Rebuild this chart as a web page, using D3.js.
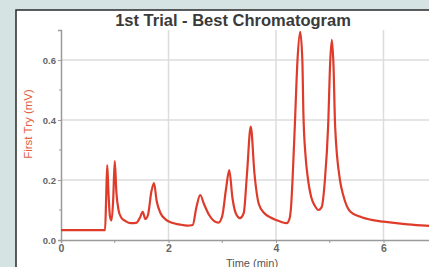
<!DOCTYPE html>
<html>
<head>
<meta charset="utf-8">
<script src="https://cdn.jsdelivr.net/npm/d3@7"></script>
<style>
  body { margin: 0; background: #d5e3e3; overflow: hidden; }
  svg { display: block; font-family: "Liberation Sans", Arial, sans-serif; }
</style>
</head>
<body>
<script>
// chromatogram: time (min), signal (mV)
const times = [0, 0.82, 0.84, 0.86, 0.88, 0.91, 0.94, 0.97, 1.0, 1.03, 1.07, 1.12, 1.2, 1.3, 1.4,
  1.47, 1.52, 1.57, 1.62, 1.68, 1.73, 1.78, 1.85, 1.95, 2.05, 2.2, 2.35, 2.45, 2.52, 2.59, 2.66,
  2.75, 2.85, 2.93, 3.0, 3.07, 3.13, 3.19, 3.25, 3.33, 3.4, 3.46, 3.53, 3.6, 3.68, 3.78, 3.9, 4.0,
  4.1, 4.2, 4.25, 4.28, 4.31, 4.35, 4.4, 4.45, 4.49, 4.51, 4.55, 4.59, 4.66, 4.72, 4.79, 4.85,
  4.91, 4.97, 5.01, 5.04, 5.07, 5.1, 5.19, 5.25, 5.38, 5.56, 5.8, 6.0, 6.4, 6.85, 7.0];
const signal = [0.033, 0.033, 0.14, 0.25, 0.17, 0.08, 0.065, 0.13, 0.263, 0.16, 0.1, 0.075, 0.063, 0.056, 0.057,
  0.075, 0.094, 0.07, 0.085, 0.16, 0.19, 0.13, 0.09, 0.068, 0.058, 0.052, 0.048, 0.05, 0.11, 0.15, 0.12,
  0.085, 0.063, 0.058, 0.08, 0.17, 0.233, 0.14, 0.09, 0.073, 0.09, 0.22, 0.378, 0.22, 0.12, 0.09, 0.075, 0.067,
  0.06, 0.056, 0.07, 0.11, 0.21, 0.38, 0.6, 0.694, 0.6, 0.42, 0.28, 0.21, 0.14, 0.115, 0.1, 0.11,
  0.2, 0.38, 0.6, 0.667, 0.58, 0.38, 0.2, 0.15, 0.095, 0.078, 0.066, 0.061, 0.053, 0.047, 0.045];
const xTicks = [0, 2, 4, 6];
const xMinor = [1, 3, 5];
const yTicks = [0, 0.2, 0.4, 0.6];
const yMinor = [0.1, 0.3, 0.5];

const W = 429, H = 267;
const svg = d3.select("body").append("svg").attr("width", W).attr("height", H);

// white panel with dark top/left edge
svg.append("rect").attr("x", 16).attr("y", 10).attr("width", W).attr("height", H).attr("fill", "#fff");
svg.append("path").attr("d", `M16,${H} V10 H${W}`).attr("fill", "none").attr("stroke", "#2a2a2a").attr("stroke-width", 1.5);

const x = d3.scaleLinear().domain([0, 7]).range([61, 437.25]);
const y = d3.scaleLinear().domain([0, 0.7]).range([240, 30]);

// grid
const grid = svg.append("g").attr("stroke", "#dcdcdc").attr("stroke-width", 1.5);
grid.selectAll("line.gx").data(xTicks.slice(1)).join("line")
  .attr("x1", d => x(d)).attr("x2", d => x(d)).attr("y1", y(0.7)).attr("y2", y(0));
grid.selectAll("line.gy").data(yTicks.slice(1)).join("line")
  .attr("x1", x(0)).attr("x2", W).attr("y1", d => y(d)).attr("y2", d => y(d));

// axes
const xAxis = svg.append("g").attr("transform", `translate(0,${y(0)})`)
  .call(d3.axisBottom(x).tickValues(xTicks).tickFormat(d3.format("d")).tickSize(3).tickPadding(2));
const yAxis = svg.append("g").attr("transform", `translate(${x(0)},0)`)
  .call(d3.axisLeft(y).tickValues(yTicks).tickFormat(d3.format(".1f")).tickSize(3).tickPadding(2));
[xAxis, yAxis].forEach(a => {
  a.select(".domain").attr("stroke", "#9a9a9a").attr("stroke-width", 1.5);
  a.selectAll(".tick line").attr("stroke", "#9a9a9a");
  a.selectAll("text").attr("fill", "#666").attr("font-size", 9.5).attr("font-weight", "bold")
    .attr("font-family", "Liberation Sans, Arial, sans-serif");
});
xAxis.selectAll("text").attr("font-size", 10.5);

svg.selectAll("line.mx").data(xMinor).join("line").attr("class", "mx")
  .attr("x1", d => x(d)).attr("x2", d => x(d)).attr("y1", y(0)).attr("y2", y(0) + 3)
  .attr("stroke", "#9a9a9a");
svg.selectAll("line.my").data(yMinor).join("line").attr("class", "my")
  .attr("x1", x(0) - 2).attr("x2", x(0)).attr("y1", d => y(d)).attr("y2", d => y(d))
  .attr("stroke", "#9a9a9a");

// trace
const pts = times.map((t, i) => [t, signal[i]]);
const line = d3.line().x(d => x(d[0])).y(d => y(d[1])).curve(d3.curveMonotoneX);
svg.append("path").datum(pts).attr("d", line)
  .attr("fill", "none").attr("stroke", "#de3b2b").attr("stroke-width", 2.2)
  .attr("stroke-linejoin", "round");

// labels
svg.append("text").attr("x", 233).attr("y", 26).attr("text-anchor", "middle")
  .attr("font-size", 16.5).attr("font-weight", "bold").attr("fill", "#3a3a3a")
  .text("1st Trial - Best Chromatogram");
svg.append("text").attr("transform", "translate(32,124) rotate(-90)").attr("text-anchor", "middle")
  .attr("font-size", 11.5).attr("fill", "#e2603f").text("First Try (mV)");
svg.append("text").attr("x", 252).attr("y", 267).attr("text-anchor", "middle")
  .attr("font-size", 11).attr("fill", "#555").text("Time (min)");
</script>
</body>
</html>
